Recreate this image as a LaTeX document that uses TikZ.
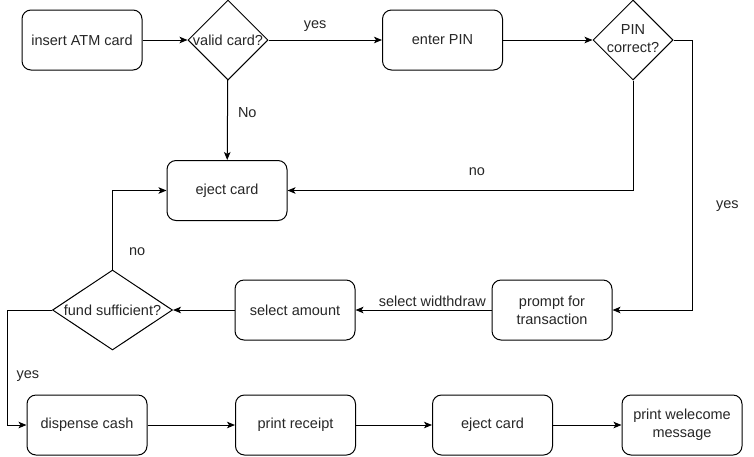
\documentclass[tikz,border=0pt]{standalone}
\usepackage{fontspec}
\setmainfont{Liberation Sans}
\usetikzlibrary{arrows.meta,shapes.geometric}

\begin{document}
\begin{tikzpicture}[x=1pt,y=-1pt,line width=1pt,
  font=\fontsize{14.5}{18}\selectfont,text=black!85,
  box/.style={draw,rounded corners=9pt,minimum width=120pt,minimum height=60pt,align=center,inner sep=2pt},
  decision/.style={draw,diamond,minimum width=80pt,minimum height=80pt,inner sep=0pt},
  flow/.style={-{Stealth[length=8pt,width=6.5pt,inset=2pt]}},
  lbl/.style={inner sep=1pt}]
\useasboundingbox (0,0) rectangle (754,456);
% top row
\node[box] (insert) at (82,40) {insert ATM card};
\node[decision] (valid) at (228,40) {\makebox[0pt]{valid card?}};
\node[box] (enterpin) at (442.5,40) {enter PIN};
\node[decision] (pincorrect) at (633,40) {\makebox[0pt]{\begin{tabular}{@{}c@{}}PIN\\correct?\end{tabular}}};
% middle
\node[box] (eject) at (227,190.5) {eject card};
\node[decision,minimum width=120pt] (fund) at (112.5,310) {\makebox[0pt]{fund sufficient?}};
\node[box] (amount) at (295,310) {select amount};
\node[box] (prompt) at (552,310) {prompt for\\transaction};
% bottom row
\node[box] (dispense) at (87,425) {dispense cash};
\node[box] (receipt) at (295.5,425) {print receipt};
\node[box] (ejectend) at (492.5,425) {eject card};
\node[box] (welcome) at (682,425) {print welecome\\message};

\draw[flow] (insert) -- (valid);
\draw[flow] (valid) -- node[lbl,pos=0.41,above=7pt] {yes} (enterpin);
\draw[flow] (enterpin) -- (pincorrect);
\draw[flow] (valid) -- node[lbl,pos=0.4,right=9pt] {No} (eject);
\draw[flow] (pincorrect.south) |- node[lbl,pos=0.726,above=13pt] {no} (eject.east);
\draw[flow] (pincorrect.east) -- ++(19,0) |- node[lbl,pos=0.307,right=22pt] {yes} (prompt.east);
\draw[flow] (prompt) -- node[lbl,pos=0.435,above=2pt] {select widthdraw} (amount);
\draw[flow] (amount) -- (fund);
\draw[flow] (fund.north) |- node[lbl,pos=0.1125,right=15pt] {no} (eject.west);
\draw[flow] (fund.west) -- ++(-45,0) |- node[lbl,pos=0.286,right=8pt] {yes} (dispense.west);
\draw[flow] (dispense) -- (receipt);
\draw[flow] (receipt) -- (ejectend);
\draw[flow] (ejectend) -- (welcome);
\end{tikzpicture}
\end{document}
